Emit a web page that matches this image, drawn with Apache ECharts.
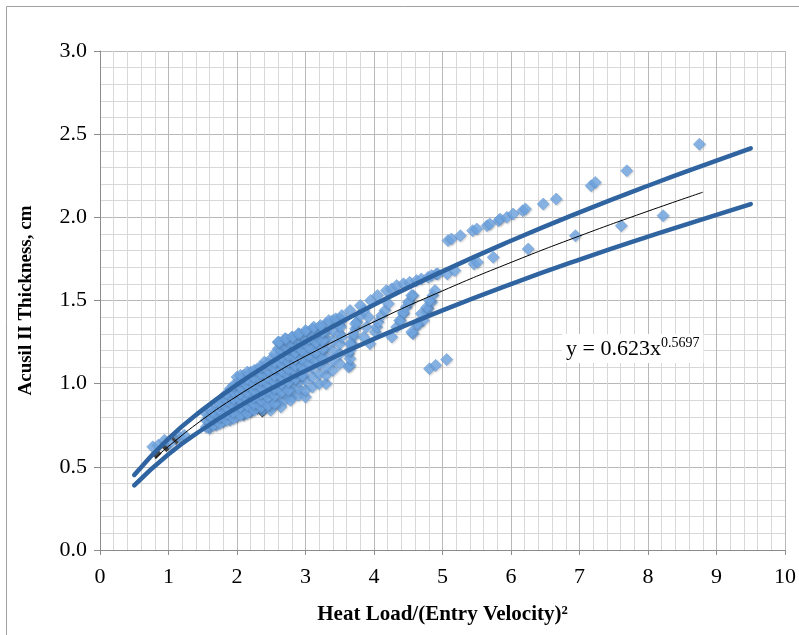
<!DOCTYPE html>
<html>
<head>
<meta charset="utf-8">
<script src="https://cdn.jsdelivr.net/npm/echarts@6/dist/echarts.min.js"></script>
<style>
  html, body { margin: 0; padding: 0; background: #fff; }
  #chart { width: 799px; height: 635px; }
</style>
</head>
<body>
<div id="chart"></div>
<script>
// x ticks 0..10, y ticks 0.0..3.0
var xTicks = [0, 1, 2, 3, 4, 5, 6, 7, 8, 9, 10];
var yTicks = [0.0, 0.5, 1.0, 1.5, 2.0, 2.5, 3.0];

// measured points, low end of the data
var lowPoints = [
	[0.77, 0.62], [0.85, 0.63], [0.94, 0.66], [1.02, 0.64], [1.16, 0.68], [1.23, 0.69]
];

// dark (shadowed) markers under the blue ones
var darkPoints = [
	[0.82, 0.58], [0.97, 0.62], [1.11, 0.665], [1.60, 0.73], [2.37, 0.83]
];

// dense band between x = 1.5 and 3.5
var densePoints = [
	[1.55, 0.74], [1.55, 0.78], [1.55, 0.82],
	[1.6, 0.73], [1.6, 0.77], [1.6, 0.81], [1.6, 0.85],
	[1.7, 0.75], [1.7, 0.79], [1.7, 0.83], [1.7, 0.87],
	[1.8, 0.77], [1.8, 0.81], [1.8, 0.85], [1.8, 0.89], [1.8, 0.92],
	[1.9, 0.78], [1.9, 0.82], [1.9, 0.86], [1.9, 0.90], [1.9, 0.94], [1.9, 0.97],
	[2.0, 0.80], [2.0, 0.84], [2.0, 0.88], [2.0, 0.92], [2.0, 0.96], [2.0, 1.00], [2.0, 1.04],
	[2.1, 0.81], [2.1, 0.85], [2.1, 0.89], [2.1, 0.93], [2.1, 0.97], [2.1, 1.01], [2.1, 1.05],
	[2.2, 0.83], [2.2, 0.87], [2.2, 0.91], [2.2, 0.95], [2.2, 0.99], [2.2, 1.03], [2.2, 1.07],
	[2.3, 0.85], [2.3, 0.89], [2.3, 0.93], [2.3, 0.97], [2.3, 1.01], [2.3, 1.05], [2.3, 1.09],
	[2.4, 0.85], [2.4, 0.90], [2.4, 0.94], [2.4, 0.98], [2.4, 1.02], [2.4, 1.06], [2.4, 1.10], [2.4, 1.13],
	[2.5, 0.86], [2.5, 0.91], [2.5, 0.95], [2.5, 0.99], [2.5, 1.03], [2.5, 1.07], [2.5, 1.11], [2.5, 1.15],
	[2.6, 0.88], [2.6, 0.92], [2.6, 0.97], [2.6, 1.01], [2.6, 1.05], [2.6, 1.09], [2.6, 1.13], [2.6, 1.17], [2.6, 1.21], [2.6, 1.25],
	[2.7, 0.90], [2.7, 0.94], [2.7, 0.98], [2.7, 1.02], [2.7, 1.06], [2.7, 1.10], [2.7, 1.14], [2.7, 1.18], [2.7, 1.22], [2.7, 1.27],
	[2.8, 0.92], [2.8, 0.96], [2.8, 1.00], [2.8, 1.04], [2.8, 1.08], [2.8, 1.12], [2.8, 1.16], [2.8, 1.20], [2.8, 1.24], [2.8, 1.28],
	[2.9, 0.93], [2.9, 0.97], [2.9, 1.01], [2.9, 1.05], [2.9, 1.09], [2.9, 1.13], [2.9, 1.17], [2.9, 1.21], [2.9, 1.25], [2.9, 1.30],
	[3.0, 0.92], [3.0, 0.96], [3.0, 1.02], [3.0, 1.08], [3.0, 1.14], [3.0, 1.18], [3.0, 1.22], [3.0, 1.26], [3.0, 1.31],
	[3.1, 0.98], [3.1, 1.04], [3.1, 1.10], [3.1, 1.16], [3.1, 1.20], [3.1, 1.24], [3.1, 1.28], [3.1, 1.33],
	[3.2, 1.00], [3.2, 1.06], [3.2, 1.12], [3.2, 1.18], [3.2, 1.23], [3.2, 1.27], [3.2, 1.31], [3.2, 1.34],
	[3.3, 1.00], [3.3, 1.05], [3.3, 1.10], [3.3, 1.16], [3.3, 1.22], [3.3, 1.27], [3.3, 1.31], [3.3, 1.36],
	[3.4, 1.08], [3.4, 1.14], [3.4, 1.20], [3.4, 1.26], [3.4, 1.32], [3.4, 1.38],
	[3.5, 1.12], [3.5, 1.18], [3.5, 1.24], [3.5, 1.30], [3.5, 1.35], [3.5, 1.39],
	[2.08, 0.82], [2.18, 0.84], [2.27, 0.86], [2.37, 0.84], [2.49, 0.84], [2.64, 0.86], [2.78, 0.90]
];

// second, staggered row of the dense band
var denseShifted = [
	[1.65, 0.75], [1.65, 0.79], [1.65, 0.83],
	[1.75, 0.76], [1.75, 0.80], [1.75, 0.84], [1.75, 0.88],
	[1.85, 0.78], [1.85, 0.82], [1.85, 0.86], [1.85, 0.90], [1.85, 0.94],
	[1.95, 0.79], [1.95, 0.83], [1.95, 0.87], [1.95, 0.91], [1.95, 0.95], [1.95, 0.99],
	[2.05, 0.81], [2.05, 0.86], [2.05, 0.90], [2.05, 0.94], [2.05, 0.98], [2.05, 1.02], [2.05, 1.05],
	[2.15, 0.82], [2.15, 0.87], [2.15, 0.91], [2.15, 0.95], [2.15, 0.99], [2.15, 1.03], [2.15, 1.07],
	[2.25, 0.84], [2.25, 0.88], [2.25, 0.92], [2.25, 0.96], [2.25, 1.00], [2.25, 1.04], [2.25, 1.08],
	[2.35, 0.86], [2.35, 0.90], [2.35, 0.94], [2.35, 0.98], [2.35, 1.02], [2.35, 1.06], [2.35, 1.10],
	[2.45, 0.87], [2.45, 0.92], [2.45, 0.96], [2.45, 1.00], [2.45, 1.04], [2.45, 1.08], [2.45, 1.12],
	[2.55, 0.88], [2.55, 0.93], [2.55, 0.97], [2.55, 1.01], [2.55, 1.05], [2.55, 1.09], [2.55, 1.13], [2.55, 1.18],
	[2.65, 0.95], [2.65, 1.00], [2.65, 1.04], [2.65, 1.08], [2.65, 1.12], [2.65, 1.16], [2.65, 1.20], [2.65, 1.24],
	[2.75, 0.96], [2.75, 1.01], [2.75, 1.05], [2.75, 1.09], [2.75, 1.13], [2.75, 1.17], [2.75, 1.21], [2.75, 1.25],
	[2.85, 1.03], [2.85, 1.07], [2.85, 1.11], [2.85, 1.15], [2.85, 1.19], [2.85, 1.23], [2.85, 1.27],
	[2.95, 1.05], [2.95, 1.10], [2.95, 1.15], [2.95, 1.20], [2.95, 1.25], [2.95, 1.29],
	[3.05, 1.12], [3.05, 1.17], [3.05, 1.22], [3.05, 1.27], [3.05, 1.31],
	[3.15, 1.14], [3.15, 1.19], [3.15, 1.25], [3.15, 1.30],
	[3.25, 1.15], [3.25, 1.21], [3.25, 1.26], [3.25, 1.31]
];

// streaks running up to the right, x = 3.5 to 5
var columnPoints = [
	[3.53, 1.38], [3.51, 1.34], [3.53, 1.28],
	[3.63, 1.10], [3.63, 1.18], [3.65, 1.11], [3.65, 1.15], [3.65, 1.20], [3.68, 1.24], [3.70, 1.28],
	[3.73, 1.33], [3.75, 1.37], [3.80, 1.41], [3.85, 1.44], [3.73, 1.36], [3.70, 1.30], [3.65, 1.24],
	[3.85, 1.28], [3.89, 1.34], [3.92, 1.40],
	[3.94, 1.24], [4.02, 1.31], [4.04, 1.34], [4.06, 1.37], [4.11, 1.41], [4.16, 1.44], [4.21, 1.48],
	[4.26, 1.28], [4.33, 1.34], [4.38, 1.38], [4.43, 1.42], [4.47, 1.46], [4.52, 1.49], [4.57, 1.53],
	[4.57, 1.30], [4.64, 1.35], [4.72, 1.38], [4.77, 1.43], [4.79, 1.45], [4.84, 1.49], [4.86, 1.53], [4.89, 1.56],
	[4.55, 1.31], [4.63, 1.36], [4.69, 1.42], [4.77, 1.46], [4.81, 1.50],
	[4.38, 1.38], [4.43, 1.43], [4.50, 1.49], [4.55, 1.53]
];

// upper arm along the top of the cloud
var upperPoints = [
	[2.61, 1.25], [2.71, 1.27], [2.81, 1.28], [2.90, 1.30], [3.00, 1.32], [3.12, 1.34], [3.22, 1.35],
	[3.34, 1.38], [3.44, 1.39], [3.53, 1.41], [3.65, 1.44], [3.80, 1.47], [3.95, 1.50], [4.05, 1.53],
	[4.18, 1.56], [4.26, 1.57], [4.33, 1.59], [4.43, 1.60], [4.52, 1.61], [4.62, 1.62], [4.69, 1.63],
	[4.79, 1.64], [4.91, 1.66], [4.84, 1.65], [4.93, 1.66], [5.07, 1.66], [5.18, 1.68], [5.46, 1.72],
	[5.51, 1.73], [5.74, 1.76], [6.25, 1.81]
];

// the scattered points at the high end
var highPoints = [
	[5.08, 1.86], [5.13, 1.87], [5.26, 1.89], [5.44, 1.92], [5.50, 1.93], [5.65, 1.95], [5.69, 1.96],
	[5.82, 1.98], [5.84, 1.99], [5.94, 2.00], [6.03, 2.02], [6.17, 2.04], [6.21, 2.05], [6.47, 2.08],
	[6.66, 2.11], [7.17, 2.19], [7.23, 2.21], [7.69, 2.28], [8.75, 2.44],
	[6.94, 1.89], [7.61, 1.95], [8.22, 2.01],
	[4.81, 1.09], [4.90, 1.11], [5.06, 1.145]
];

// fitted curve y = 0.623x^0.5697 and its two bounds
var fitX = [0.8, 1, 1.5, 2, 2.5, 3, 4, 5, 6, 7, 8, 8.8];
var fitY = [0.549, 0.623, 0.785, 0.925, 1.050, 1.165, 1.372, 1.558, 1.729, 1.888, 2.037, 2.151];
var boundX = [0.5, 1, 1.5, 2, 2.5, 3, 4, 5, 6, 7, 8, 9, 9.5];
var upperY = [0.451, 0.670, 0.844, 0.994, 1.129, 1.252, 1.475, 1.675, 1.859, 2.030, 2.190, 2.341, 2.415];
var lowerY = [0.389, 0.576, 0.726, 0.856, 0.971, 1.078, 1.269, 1.441, 1.599, 1.746, 1.884, 2.015, 2.080];

function pairs(xs, ys) {
	var out = [];
	for (var i = 0; i < xs.length; i++) {
		out.push([xs[i], ys[i]]);
	}
	return out;
}

var serif = '"Liberation Serif", "DejaVu Serif", serif';
var markerStyle = {
	color: '#72a9e6',
	borderColor: '#5a92d2',
	borderWidth: 0.6,
	shadowColor: 'rgba(0,0,0,0.2)',
	shadowBlur: 2,
	shadowOffsetX: 1,
	shadowOffsetY: 1
};

function scatter(data) {
	return { type: 'scatter', data: data, symbol: 'diamond', symbolSize: 12, z: 2, itemStyle: markerStyle };
}

var chart = echarts.init(document.getElementById('chart'));

chart.setOption({
	animation: false,
	backgroundColor: '#fff',
	grid: { left: 100, right: 10, top: 51, bottom: 85 },
	xAxis: {
		type: 'value',
		min: xTicks[0],
		max: xTicks[xTicks.length - 1],
		interval: 1,
		name: 'Heat Load/(Entry Velocity)²',
		nameLocation: 'middle',
		nameGap: 54,
		nameTextStyle: { fontFamily: serif, fontWeight: 'bold', fontSize: 21, color: '#000' },
		axisLine: { lineStyle: { color: '#8c8c8c' } },
		axisTick: { show: true, length: 5, lineStyle: { color: '#8c8c8c' } },
		axisLabel: { fontFamily: serif, fontSize: 22, color: '#000', margin: 16 },
		splitLine: { lineStyle: { color: '#b8b8b8', width: 1 } },
		minorTick: { show: false, splitNumber: 5 },
		minorSplitLine: { show: true, lineStyle: { color: '#d8d8d8', width: 1 } }
	},
	yAxis: {
		type: 'value',
		min: yTicks[0],
		max: yTicks[yTicks.length - 1],
		interval: 0.5,
		name: 'Acusil II Thickness, cm',
		nameLocation: 'middle',
		nameGap: 64,
		nameTextStyle: { fontFamily: serif, fontWeight: 'bold', fontSize: 19, color: '#000' },
		axisLine: { show: true, lineStyle: { color: '#8c8c8c' } },
		axisTick: { show: true, length: 6, lineStyle: { color: '#8c8c8c' } },
		axisLabel: {
			fontFamily: serif, fontSize: 22, color: '#000', margin: 13,
			formatter: function (v) { return v.toFixed(1); }
		},
		splitLine: { lineStyle: { color: '#b8b8b8', width: 1 } },
		minorTick: { show: false, splitNumber: 5 },
		minorSplitLine: { show: true, lineStyle: { color: '#d8d8d8', width: 1 } }
	},
	graphic: [
		{
			type: 'rect',
			shape: { x: 6.5, y: 6.5, width: 900, height: 900 },
			style: { fill: 'none', stroke: '#a0a0a0', lineWidth: 1 },
			silent: true
		},
		{
			type: 'text',
			left: 562,
			top: 334,
			z: 100,
			style: {
				text: '{a|y = 0.623x}{b|0.5697}',
				backgroundColor: '#fff',
				padding: [2, 4, 1, 4],
				rich: {
					a: { fontFamily: serif, fontSize: 22, fill: '#000', lineHeight: 26 },
					b: { fontFamily: serif, fontSize: 14, fill: '#000', verticalAlign: 'top', lineHeight: 16 }
				}
			}
		}
	],
	series: [
		{ type: 'scatter', data: darkPoints, symbol: 'diamond', symbolSize: 11, z: 1,
			itemStyle: { color: '#1c1c1c' } },
		scatter(lowPoints),
		scatter(densePoints),
		scatter(denseShifted),
		scatter(columnPoints),
		scatter(upperPoints),
		scatter(highPoints),
		{ type: 'line', data: pairs(boundX, upperY), smooth: true, showSymbol: false, z: 5,
			lineStyle: { color: '#2f64a0', width: 4.5, cap: 'round' } },
		{ type: 'line', data: pairs(boundX, lowerY), smooth: true, showSymbol: false, z: 5,
			lineStyle: { color: '#2f64a0', width: 4.5, cap: 'round' } },
		{ type: 'line', data: pairs(fitX, fitY), smooth: true, showSymbol: false, z: 6,
			lineStyle: { color: '#000', width: 1 } }
	]
});
</script>
</body>
</html>
